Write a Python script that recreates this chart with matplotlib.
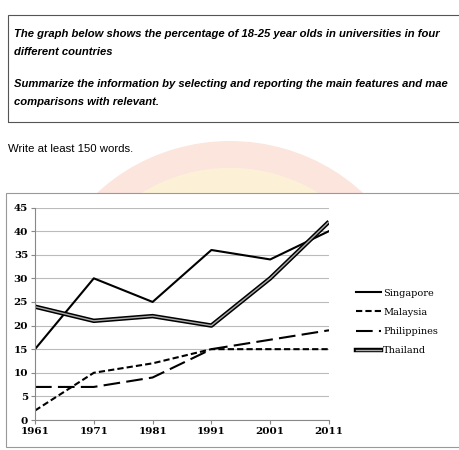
import matplotlib
matplotlib.use("Agg")
import matplotlib.pyplot as plt
from matplotlib.patches import Rectangle, Wedge
from matplotlib.lines import Line2D

years = [1961, 1971, 1981, 1991, 2001, 2011]
singapore = [15, 30, 25, 36, 34, 40]
malaysia = [2, 10, 12, 15, 15, 15]
philippines = [7, 7, 9, 15, 17, 19]
thailand = [24, 21, 22, 20, 30, 42]
yticks = [0, 5, 10, 15, 20, 25, 30, 35, 40, 45]

W, H = 460, 450
fig = plt.figure(figsize=(4.6, 4.5), dpi=100)
fig.patch.set_facecolor("white")

def fx(x): return x / W
def fy(y): return 1 - y / H

# watermark arc
for r, c, a in [(0.42, "#f4b6a0", 0.35), (0.36, "#f8d98a", 0.35)]:
    w = Wedge((fx(230), fy(330)), r, 25, 155, width=0.06, transform=fig.transFigure,
              facecolor=c, edgecolor="none", alpha=a, zorder=0)
    fig.patches.append(w)

# prompt box
fig.patches.append(Rectangle((fx(8), fy(122)), fx(460), 107 / H, transform=fig.transFigure,
                             facecolor="none", edgecolor="#555555", lw=0.8))
kw = dict(family="Liberation Sans", fontsize=8.15, fontweight="bold", style="italic",
          va="center", ha="left")
fig.text(fx(14), fy(34), "The graph below shows the percentage of 18-25 year olds in universities in four", **kw)
fig.text(fx(14), fy(52), "different countries", **kw)
fig.text(fx(14), fy(84), "Summarize the information by selecting and reporting the main features and mae", **kw)
fig.text(fx(14), fy(102), "comparisons with relevant.", **kw)
fig.text(fx(8), fy(149), "Write at least 150 words.", family="Liberation Sans", fontsize=8.2,
         va="center", ha="left")

# chart frame
fig.patches.append(Rectangle((fx(6), fy(447)), fx(460), 254 / H, transform=fig.transFigure,
                             facecolor="white", edgecolor="#999999", lw=0.8, zorder=1))

ax = fig.add_axes([fx(35), fy(420), (329 - 35) / W, (420 - 207.5) / H])
ax.set_zorder(2)
ax.set_xlim(1961, 2011)
ax.set_ylim(0, 45)
ax.set_xticks(years)
ax.set_yticks(yticks)
ax.grid(axis="y", color="#bbbbbb", lw=0.8)
ax.set_axisbelow(True)
for s in ["top", "right"]:
    ax.spines[s].set_visible(False)
ax.spines["left"].set_color("#888888")
ax.spines["bottom"].set_color("#888888")
ax.tick_params(length=3, color="#888888", pad=2)
for lab in ax.get_xticklabels() + ax.get_yticklabels():
    lab.set_family("DejaVu Serif")
    lab.set_fontweight("bold")
    lab.set_fontsize(7.5)

ax.plot(years, singapore, color="black", lw=1.5)
ax.plot(years, malaysia, color="black", lw=1.5, ls=(0, (3, 1.5)))
ax.plot(years, philippines, color="black", lw=1.5, ls=(0, (8, 3)))
ax.plot(years, thailand, color="black", lw=3.2, solid_capstyle="butt")
ax.plot(years, thailand, color="#aaaaaa", lw=1.0, solid_capstyle="butt")

handles = [Line2D([], [], color="black", lw=1.5),
           Line2D([], [], color="black", lw=1.5, ls=(0, (3, 1.5))),
           Line2D([], [], color="black", lw=1.5, ls=(0, (8, 3))),
           (Line2D([], [], color="black", lw=3.2), Line2D([], [], color="#aaaaaa", lw=1.0))]
leg = fig.legend(handles, ["Singapore", "Malaysia", "Philippines", "Thailand"],
                 loc="center left", bbox_to_anchor=(fx(352), fy(322)), frameon=False,
                 prop={"family": "DejaVu Serif", "size": 7}, handlelength=2.6,
                 handletextpad=0.2, labelspacing=1.05, borderaxespad=0)
leg.set_zorder(3)

fig.savefig("out.png", dpi=100)
